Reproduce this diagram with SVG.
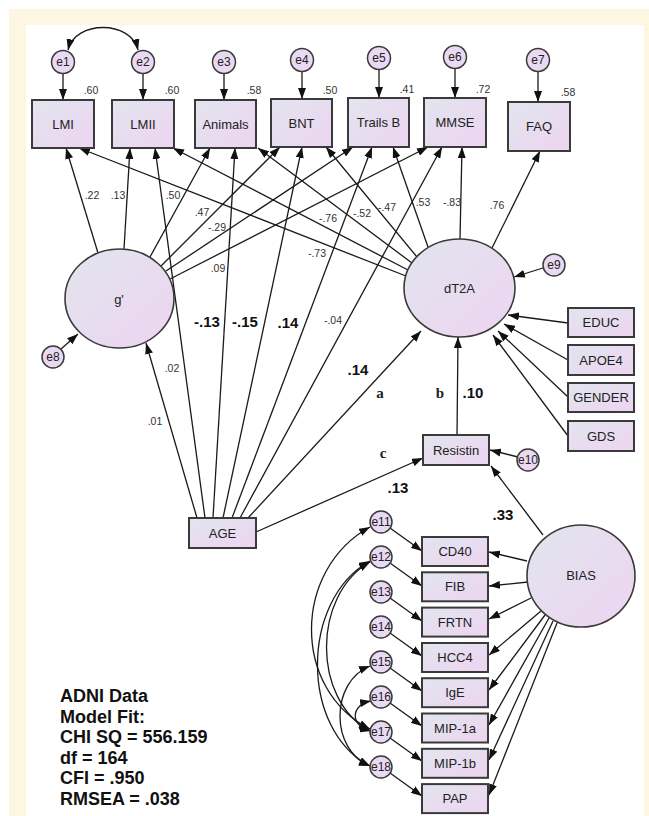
<svg xmlns="http://www.w3.org/2000/svg" width="649" height="816" viewBox="0 0 649 816">
<defs>
<linearGradient id="gf" x1="0" y1="0" x2="1" y2="1">
<stop offset="0" stop-color="#e2e5ee"/>
<stop offset="1" stop-color="#edd4f1"/>
</linearGradient>
<marker id="ah" markerUnits="userSpaceOnUse" markerWidth="11" markerHeight="8" refX="11" refY="4" orient="auto-start-reverse">
<path d="M0,0 L11,4 L0,8 z" fill="#111"/>
</marker>
<style>
.box{fill:url(#gf);stroke:#3a3a3a;stroke-width:2}
.lat{fill:url(#gf);stroke:#3a3a3a;stroke-width:1.6}
.err{fill:#ead9f2;stroke:#3a3a3a;stroke-width:1.5}
.lbl{font-family:"Liberation Sans",Arial,sans-serif;font-size:13px;fill:#222;text-anchor:middle}
.el{font-family:"Liberation Sans",Arial,sans-serif;font-size:12px;fill:#222;text-anchor:middle}
.num{font-family:"Liberation Sans",Arial,sans-serif;font-size:10.5px;fill:#333;text-anchor:middle}
.bn{font-family:"Liberation Sans",Arial,sans-serif;font-size:15px;font-weight:bold;fill:#111;text-anchor:middle}
.ser{font-family:"Liberation Serif","Times New Roman",serif;font-size:15px;font-weight:bold;fill:#222;text-anchor:middle}
.fit{font-family:"Liberation Sans",Arial,sans-serif;font-size:18px;font-weight:bold;fill:#111}
.c{fill:none;stroke:#1a1a1a;stroke-width:1.3;marker-end:url(#ah)}
.cv{fill:none;stroke:#1a1a1a;stroke-width:1.3;marker-end:url(#ah);marker-start:url(#ah)}
</style>
</defs>
<rect x="0" y="0" width="649" height="816" fill="#ffffff"/>
<rect x="9" y="9" width="640" height="807" fill="#fdf7e2"/>
<rect x="26" y="25" width="618" height="791" fill="#ffffff"/>

<g id="connectors">
<!-- covariance e1-e2 -->
<path class="cv" d="M68,50 C75,20 131,20 138,50"/>
<!-- errors to top boxes -->
<line class="c" x1="63" y1="73.5" x2="63" y2="100"/>
<line class="c" x1="143" y1="73.5" x2="143" y2="100"/>
<line class="c" x1="224" y1="73.5" x2="224" y2="100"/>
<line class="c" x1="302" y1="71.5" x2="302" y2="99"/>
<line class="c" x1="379" y1="69.5" x2="379" y2="98"/>
<line class="c" x1="455" y1="68.5" x2="455" y2="98"/>
<line class="c" x1="538" y1="71.5" x2="538" y2="102"/>
<!-- g' paths -->
<line class="c" x1="98" y1="253" x2="66" y2="148"/>
<line class="c" x1="124" y1="249" x2="130" y2="148"/>
<line class="c" x1="150" y1="257" x2="210" y2="148"/>
<line class="c" x1="161" y1="266" x2="280" y2="147"/>
<line class="c" x1="166" y1="271" x2="353" y2="147"/>
<line class="c" x1="170" y1="279" x2="428" y2="147"/>
<!-- dT2A paths -->
<line class="c" x1="406" y1="276" x2="79" y2="148"/>
<line class="c" x1="408" y1="270" x2="173" y2="148"/>
<line class="c" x1="412" y1="263" x2="258" y2="148"/>
<line class="c" x1="417" y1="257" x2="326" y2="147"/>
<line class="c" x1="428" y1="247" x2="393" y2="147"/>
<line class="c" x1="460" y1="239" x2="462" y2="147"/>
<line class="c" x1="492" y1="248" x2="540" y2="151"/>
<!-- AGE paths -->
<line class="c" x1="197" y1="518" x2="146" y2="343"/>
<line class="c" x1="205" y1="518" x2="155" y2="148"/>
<line class="c" x1="213" y1="518" x2="235" y2="148"/>
<line class="c" x1="223" y1="518" x2="302" y2="147"/>
<line class="c" x1="232" y1="518" x2="372" y2="147"/>
<line class="c" x1="240" y1="518" x2="442" y2="147"/>
<line class="c" x1="248" y1="518" x2="421" y2="331"/>
<line class="c" x1="256" y1="532" x2="423" y2="458"/>
<!-- e8, e9 -->
<line class="c" x1="61" y1="349" x2="78" y2="334"/>
<line class="c" x1="543" y1="268" x2="514" y2="277"/>
<!-- covariates to dT2A -->
<line class="c" x1="568" y1="323" x2="508" y2="315"/>
<line class="c" x1="568" y1="360" x2="504" y2="324"/>
<line class="c" x1="568" y1="397" x2="498" y2="331"/>
<line class="c" x1="568" y1="436" x2="493" y2="335"/>
<!-- Resistin -->
<line class="c" x1="457" y1="435" x2="458" y2="337"/>
<line class="c" x1="518" y1="457" x2="490" y2="450"/>
<line class="c" x1="543" y1="535" x2="491" y2="466"/>
<!-- BIAS indicators -->
<line class="c" x1="527" y1="561" x2="489" y2="552"/>
<line class="c" x1="528" y1="582" x2="489" y2="586"/>
<line class="c" x1="531" y1="598" x2="489" y2="619"/>
<line class="c" x1="541" y1="611" x2="489" y2="655"/>
<line class="c" x1="545" y1="615" x2="489" y2="690"/>
<line class="c" x1="549" y1="618" x2="489" y2="725"/>
<line class="c" x1="553" y1="621" x2="489" y2="760"/>
<line class="c" x1="557" y1="623" x2="489" y2="795"/>
<!-- errors to indicators -->
<line class="c" x1="390" y1="528" x2="422" y2="551"/>
<line class="c" x1="390" y1="563" x2="422" y2="586"/>
<line class="c" x1="390" y1="598" x2="422" y2="621"/>
<line class="c" x1="390" y1="633" x2="422" y2="656"/>
<line class="c" x1="390" y1="668" x2="422" y2="691"/>
<line class="c" x1="390" y1="703" x2="422" y2="726"/>
<line class="c" x1="390" y1="738" x2="422" y2="761"/>
<line class="c" x1="390" y1="773" x2="422" y2="796"/>
<!-- error covariances -->
<path class="cv" d="M370,527 C292,570 292,690 370,729"/>
<path class="cv" d="M370,561 C300,600 300,730 370,766"/>
<path class="cv" d="M370,562 C312,595 312,700 370,731"/>
<path class="cv" d="M370,666 C330,682 330,750 370,766"/>
<path class="cv" d="M371,701 C350,705 350,726 371,731"/>
</g>

<g id="LMI"><rect class="box" x="32" y="100" width="62" height="48"/><text class="lbl" x="63" y="128.5">LMI</text><text class="num" x="91" y="94">.60</text></g>
<g id="LMII"><rect class="box" x="112" y="100" width="62" height="48"/><text class="lbl" x="143" y="128.5">LMII</text><text class="num" x="172" y="94">.60</text></g>
<g id="Animals"><rect class="box" x="195" y="100" width="61" height="48"/><text class="lbl" x="225.5" y="128.5">Animals</text><text class="num" x="254" y="94">.58</text></g>
<g id="BNT"><rect class="box" x="271" y="99" width="61" height="48"/><text class="lbl" x="301.5" y="127.5">BNT</text><text class="num" x="330" y="94">.50</text></g>
<g id="TrailsB"><rect class="box" x="348" y="98" width="61" height="49"/><text class="lbl" x="378.5" y="127">Trails B</text><text class="num" x="407" y="93">.41</text></g>
<g id="MMSE"><rect class="box" x="424" y="98" width="62" height="49"/><text class="lbl" x="455" y="127">MMSE</text><text class="num" x="483" y="93">.72</text></g>
<g id="FAQ"><rect class="box" x="508" y="102" width="62" height="49"/><text class="lbl" x="539" y="131">FAQ</text><text class="num" x="568" y="96">.58</text></g>

<g id="e1"><circle class="err" cx="63" cy="62" r="11.5"/><text class="el" x="63" y="66">e1</text></g>
<g id="e2"><circle class="err" cx="143" cy="62" r="11.5"/><text class="el" x="143" y="66">e2</text></g>
<g id="e3"><circle class="err" cx="224" cy="62" r="11.5"/><text class="el" x="224" y="66">e3</text></g>
<g id="e4"><circle class="err" cx="302" cy="60" r="11.5"/><text class="el" x="302" y="64">e4</text></g>
<g id="e5"><circle class="err" cx="379" cy="58" r="11.5"/><text class="el" x="379" y="62">e5</text></g>
<g id="e6"><circle class="err" cx="455" cy="57" r="11.5"/><text class="el" x="455" y="61">e6</text></g>
<g id="e7"><circle class="err" cx="538" cy="60" r="11.5"/><text class="el" x="538" y="64">e7</text></g>

<g id="g"><ellipse class="lat" cx="119.5" cy="298.5" rx="54.5" ry="49.5"/><text class="lbl" x="119" y="304">g'</text></g>
<g id="e8"><circle class="err" cx="53" cy="357" r="11"/><text class="el" x="53" y="361">e8</text></g>
<g id="dT2A"><ellipse class="lat" cx="459.5" cy="288" rx="55.5" ry="49"/><text class="lbl" x="459.5" y="293">dT2A</text></g>
<g id="e9"><circle class="err" cx="554" cy="265" r="11"/><text class="el" x="554" y="269">e9</text></g>

<g id="EDUC"><rect class="box" x="568" y="308" width="66" height="29"/><text class="lbl" x="601" y="327">EDUC</text></g>
<g id="APOE4"><rect class="box" x="568" y="345" width="66" height="30"/><text class="lbl" x="601" y="364.5">APOE4</text></g>
<g id="GENDER"><rect class="box" x="568" y="383" width="66" height="29"/><text class="lbl" x="601" y="402">GENDER</text></g>
<g id="GDS"><rect class="box" x="568" y="421" width="66" height="30"/><text class="lbl" x="601" y="440.5">GDS</text></g>

<g id="AGE"><rect class="box" x="189" y="518" width="67" height="30"/><text class="lbl" x="222.5" y="537.5">AGE</text></g>
<g id="Resistin"><rect class="box" x="423" y="435" width="66" height="30"/><text class="lbl" x="456" y="454.5">Resistin</text></g>
<g id="e10"><circle class="err" cx="528" cy="460" r="11"/><text class="el" x="528" y="464">e10</text></g>
<g id="BIAS"><ellipse class="lat" cx="581" cy="576" rx="54" ry="51"/><text class="lbl" x="581" y="580">BIAS</text></g>

<g id="CD40"><rect class="box" x="422" y="537" width="66" height="29"/><text class="lbl" x="455" y="556">CD40</text></g>
<g id="FIB"><rect class="box" x="422" y="572.3" width="66" height="29"/><text class="lbl" x="455" y="591.3">FIB</text></g>
<g id="FRTN"><rect class="box" x="422" y="607.6" width="66" height="29"/><text class="lbl" x="455" y="626.6">FRTN</text></g>
<g id="HCC4"><rect class="box" x="422" y="643" width="66" height="29"/><text class="lbl" x="455" y="662">HCC4</text></g>
<g id="IgE"><rect class="box" x="422" y="678.2" width="66" height="29"/><text class="lbl" x="455" y="697.2">IgE</text></g>
<g id="MIP-1a"><rect class="box" x="422" y="713.5" width="66" height="29"/><text class="lbl" x="455" y="732.5">MIP-1a</text></g>
<g id="MIP-1b"><rect class="box" x="422" y="748.8" width="66" height="29"/><text class="lbl" x="455" y="767.8">MIP-1b</text></g>
<g id="PAP"><rect class="box" x="422" y="784.1" width="66" height="29"/><text class="lbl" x="455" y="803.1">PAP</text></g>

<g id="e11"><circle class="err" cx="381" cy="522" r="11"/><text class="el" x="381" y="526">e11</text></g>
<g id="e12"><circle class="err" cx="381" cy="557" r="11"/><text class="el" x="381" y="561">e12</text></g>
<g id="e13"><circle class="err" cx="381" cy="592" r="11"/><text class="el" x="381" y="596">e13</text></g>
<g id="e14"><circle class="err" cx="381" cy="627" r="11"/><text class="el" x="381" y="631">e14</text></g>
<g id="e15"><circle class="err" cx="381" cy="662" r="11"/><text class="el" x="381" y="666">e15</text></g>
<g id="e16"><circle class="err" cx="381" cy="697" r="11"/><text class="el" x="381" y="701">e16</text></g>
<g id="e17"><circle class="err" cx="381" cy="732" r="11"/><text class="el" x="381" y="736">e17</text></g>
<g id="e18"><circle class="err" cx="381" cy="767" r="11"/><text class="el" x="381" y="771">e18</text></g>

<g id="labels">
<text class="num" x="92" y="199">.22</text>
<text class="num" x="118" y="199">.13</text>
<text class="num" x="173" y="199">.50</text>
<text class="num" x="202" y="216">.47</text>
<text class="num" x="217" y="231">-.29</text>
<text class="num" x="218" y="272">.09</text>
<text class="num" x="317" y="257">-.73</text>
<text class="num" x="328" y="222">-.76</text>
<text class="num" x="362" y="217">-.52</text>
<text class="num" x="387" y="211">-.47</text>
<text class="num" x="423" y="206">.53</text>
<text class="num" x="452" y="206">-.83</text>
<text class="num" x="497" y="209">.76</text>
<text class="num" x="155" y="425">.01</text>
<text class="num" x="172" y="372">.02</text>
<text class="num" x="333" y="324">-.04</text>
<text class="bn" x="207" y="327">-.13</text>
<text class="bn" x="245" y="327">-.15</text>
<text class="bn" x="288" y="328">.14</text>
<text class="bn" x="358" y="375">.14</text>
<text class="ser" x="380" y="398">a</text>
<text class="ser" x="440" y="398">b</text>
<text class="bn" x="473" y="398">.10</text>
<text class="ser" x="383" y="458">c</text>
<text class="bn" x="398" y="493">.13</text>
<text class="bn" x="503" y="520">.33</text>
</g>

<g id="modelfit">
<text class="fit" x="60" y="702">ADNI Data</text>
<text class="fit" x="60" y="722.5">Model Fit:</text>
<text class="fit" x="60" y="743">CHI SQ = 556.159</text>
<text class="fit" x="60" y="763.5">df = 164</text>
<text class="fit" x="60" y="784">CFI = .950</text>
<text class="fit" x="60" y="804.5">RMSEA = .038</text>
</g>
</svg>
